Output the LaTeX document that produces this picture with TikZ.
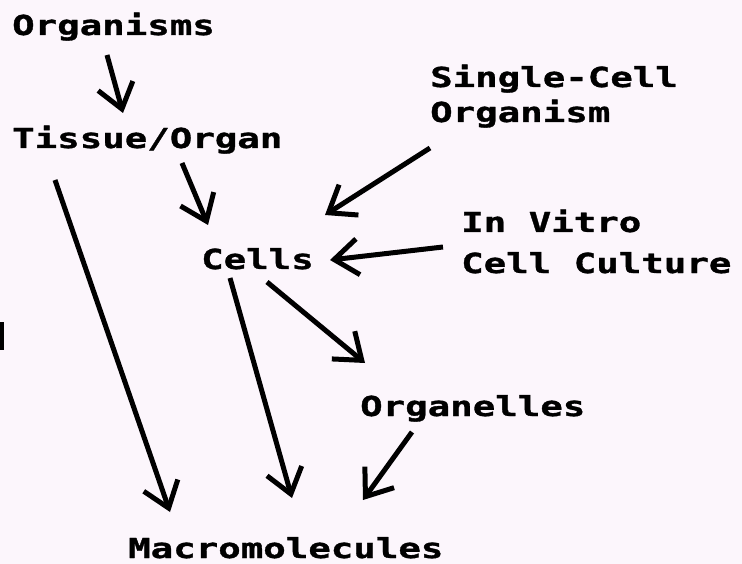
\documentclass[tikz,border=0pt]{standalone}
\usepackage{fontspec}
\setmonofont{DejaVu Sans Mono}[FakeStretch=1.36,FakeBold=1.2]
\usetikzlibrary{arrows.meta}
\definecolor{bgpink}{RGB}{252,246,252}
\tikzset{
  lbl/.style={font=\ttfamily\bfseries\fontsize{27.5}{30}\selectfont, inner sep=0pt, text depth=0pt, anchor=base west},
  arr/.style={line width=5pt, -{Straight Barb[length=24pt,width=36pt]}},
}
\begin{document}
\begin{tikzpicture}[x=1pt,y=-1pt]
\fill[bgpink] (0,0) rectangle (742,564);
\useasboundingbox (0,0) rectangle (742,564);
% labels
\node[lbl] (orgs) at (12,35) {Organisms};
\node[lbl] (tis) at (12,148) {Tissue/Organ};
\node[lbl] (sc) at (430,87) {Single-Cell};
\node[lbl] (sc2) at ([yshift=-35pt]sc.base west) {Organism};
\node[lbl] (iv) at (461,232) {In Vitro};
\node[lbl] (iv2) at ([yshift=-41pt]iv.base west) {Cell Culture};
\node[lbl] (cells) at (201,269) {Cells};
\node[lbl] (orgl) at (360,416) {Organelles};
\node[lbl] (macro) at (128,558) {Macromolecules};
% arrow ends
\coordinate (a1) at (107,55);  \coordinate (b1) at (123,113);
\coordinate (a2) at (182,163); \coordinate (b2) at (208,225);
\coordinate (a3) at (55,180);  \coordinate (b3) at (170,512);
\coordinate (a4) at (430,148); \coordinate (b4) at (325,215);
\coordinate (a5) at (443,247); \coordinate (b5) at (330,260);
\coordinate (a6) at (230,278); \coordinate (b6) at (292,498);
\coordinate (a7) at (267,282); \coordinate (b7) at (365,363);
\coordinate (a8) at (412,432); \coordinate (b8) at (363,500);
\draw[arr] (a1) -- (b1);
\draw[arr] (a2) -- (b2);
\draw[arr] (a3) -- (b3);
\draw[arr] (a4) -- (b4);
\draw[arr] (a5) -- (b5);
\draw[arr] (a6) -- (b6);
\draw[arr] (a7) -- (b7);
\draw[arr] (a8) -- (b8);
% stray mark at the left edge
\fill (0,322) rectangle (4,350);
\end{tikzpicture}
\end{document}
